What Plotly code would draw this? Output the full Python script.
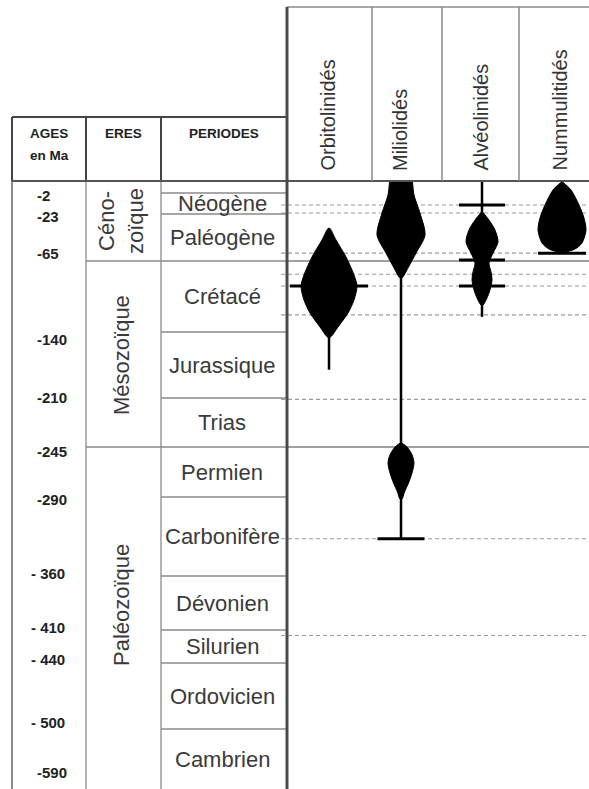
import numpy as np
import plotly.graph_objects as go

# ---------------- data ----------------
boundary_ages = [0, 2, 23, 65, 140, 210, 245, 290, 360, 410, 440, 500, 590]
period_names = ["", "Néogène", "Paléogène", "Crétacé", "Jurassique", "Trias",
                "Permien", "Carbonifère", "Dévonien", "Silurien", "Ordovicien", "Cambrien"]
era_names = ["Céno-<br>zoïque", "Mésozoïque", "Paléozoïque"]
era_bounds = [0, 65, 245, 590]
age_ticks = [2, 23, 65, 140, 210, 245, 290, 360, 410, 440, 500, 590]
age_labels = ["-2", "-23", "-65", "-140", "-210", "-245", "-290",
              "- 360", "- 410", "- 440", "- 500", "-590"]
taxa = ["Orbitolinidés", "Miliolidés", "Alvéolinidés", "Nummulitidés"]

# spindles : age (Ma) and relative abundance
orbito_age = [35.5, 46.2, 61.4, 79.8, 91.4, 106.2, 119.9, 134.7, 145.3]
orbito_abund = [0, 7, 17, 25, 28, 25, 19, 9, 1.5]
milio1_age = [0, 4, 22, 41.8, 57.9, 71.3, 83]
milio1_abund = [11.5, 13, 19, 24, 15, 7.5, 1]
milio2_age = [242, 245, 252, 259.4, 268.4, 277.4, 285.5, 291.8]
milio2_abund = [0.5, 6, 11, 13, 11, 7.5, 3.5, 1]
alveo_age = [21, 28.4, 37.3, 48, 57.9, 67.1, 76.6, 85.1, 98.8, 111.5]
alveo_abund = [0.5, 7, 13, 16, 11, 7, 9, 10, 7, 1]
nummu_age = [0, 1.45, 14, 26.6, 37.3, 48.9, 54.3, 57]
nummu_abund = [0.5, 9, 17, 22, 24, 20, 13, 3]

# stratigraphic ranges (Ma) and marker levels (Ma)
range_top = [35.5, 0, 0, None]
range_base = [180, 327, 124, None]
marker_ages = [[91.4], [327], [14, 64, 91.4], [58]]

dashed_ages = [14, 22, 58, 79, 91.4, 122, 211, 327, 415]
solid_ages = [65, 245]

# ---------------- layout helpers ----------------
W, H = 589, 789
row_pos = [182, 193, 214, 261, 332, 398, 447, 497, 576, 630, 663, 729, 789]


def ypos(age):
    return float(np.interp(age, boundary_ages, row_pos))


X_LEFT, X_ERA, X_PER, X_AXIS, X_RIGHT = 12, 86, 161, 287, 589
HEAD_TOP_L, HEAD_TOP_R, HEAD_BOT = 117, 7, 181
taxon_x = [329, 401, 482, 562]
head_x = [327, 400, 480, 559]
marker_half = [39, 23.5, 23, 24]
label_dy = [2, 2, -8, 7, -1, 4, 2, -3, -3, -4, -7, -17]

fig = go.Figure()


def line(x0, y0, x1, y1, color, width, dash=None, layer="below"):
    fig.add_shape(type="line", xref="x", yref="y", x0=x0, y0=y0, x1=x1, y1=y1,
                  line=dict(color=color, width=width, dash=dash), layer=layer)


# right panel reference lines
for a in dashed_ages:
    line(X_AXIS - 6, ypos(a), X_RIGHT, ypos(a), "#9a9a9a", 1.2, dash="4px,3px")
for a in solid_ages:
    line(X_AXIS, ypos(a), X_RIGHT, ypos(a), "#808080", 1.5)

# left table body
line(X_LEFT, HEAD_BOT, X_LEFT, H, "#8a8a8a", 2)
line(X_ERA, HEAD_BOT, X_ERA, H, "#9a9a9a", 1.5)
line(X_PER, HEAD_BOT, X_PER, H, "#9a9a9a", 1.5)
for a in boundary_ages[1:-1]:
    x0 = X_ERA if a in era_bounds else X_PER
    line(x0, ypos(a), X_AXIS, ypos(a), "#8a8a8a", 1.5)

# left header box
line(X_LEFT, HEAD_TOP_L, X_AXIS, HEAD_TOP_L, "#444444", 2)
line(X_LEFT, HEAD_TOP_L, X_LEFT, HEAD_BOT, "#444444", 2)
line(X_ERA, HEAD_TOP_L, X_ERA, HEAD_BOT, "#444444", 2)
line(X_PER, HEAD_TOP_L, X_PER, HEAD_BOT, "#444444", 2)
line(X_LEFT, HEAD_BOT, X_RIGHT, HEAD_BOT, "#555555", 2)

# right header boxes
line(X_AXIS, HEAD_TOP_R, X_RIGHT, HEAD_TOP_R, "#8a8a8a", 1.5)
for xb in [372, 442, 519]:
    line(xb, HEAD_TOP_R, xb, HEAD_BOT, "#8a8a8a", 1.5)

# thick axis line
line(X_AXIS, HEAD_TOP_R, X_AXIS, H, "#4a4a4a", 3)

# ranges and markers
for i in range(4):
    cx = taxon_x[i]
    if range_top[i] is not None:
        fig.add_trace(go.Scatter(x=[cx, cx], y=[ypos(range_top[i]), ypos(range_base[i])],
                                 mode="lines", line=dict(color="black", width=2.5),
                                 hoverinfo="skip"))
    for a in marker_ages[i]:
        fig.add_trace(go.Scatter(x=[cx - marker_half[i], cx + marker_half[i]],
                                 y=[ypos(a), ypos(a)], mode="lines",
                                 line=dict(color="black", width=3), hoverinfo="skip"))


def spindle(cx, ages, abund):
    ys = [ypos(a) for a in ages]
    xr = [cx + w for w in abund]
    xl = [cx - w for w in abund]
    fig.add_trace(go.Scatter(x=xr + xl[::-1], y=ys + ys[::-1], mode="lines",
                             fill="toself", fillcolor="black",
                             line=dict(color="black", width=1, shape="spline", smoothing=0.8),
                             hoverinfo="skip"))


spindle(taxon_x[0], orbito_age, orbito_abund)
spindle(taxon_x[1], milio1_age, milio1_abund)
spindle(taxon_x[1], milio2_age, milio2_abund)
spindle(taxon_x[2], alveo_age, alveo_abund)
spindle(taxon_x[3], nummu_age, nummu_abund)

# ---------------- texts ----------------
anns = []
hdr_font = dict(family="Liberation Sans, Arial, sans-serif", size=13.5, color="#222222")
anns.append(dict(x=(X_LEFT + X_ERA) / 2, y=133, text="<b>AGES</b>", font=hdr_font, showarrow=False))
anns.append(dict(x=(X_LEFT + X_ERA) / 2, y=155, text="<b>en Ma</b>", font=hdr_font, showarrow=False))
anns.append(dict(x=(X_ERA + X_PER) / 2, y=133, text="<b>ERES</b>", font=hdr_font, showarrow=False))
anns.append(dict(x=(X_PER + X_AXIS) / 2, y=133, text="<b>PERIODES</b>", font=hdr_font, showarrow=False))

for t, hx in zip(taxa, head_x):
    anns.append(dict(x=hx, y=173, text=t, textangle=-90, yanchor="bottom",
                     font=dict(family="Liberation Sans, Arial, sans-serif", size=20, color="#333333"),
                     showarrow=False))

per_font = dict(family="Liberation Sans, Arial, sans-serif", size=22, color="#3a3a3a")
for i, name in enumerate(period_names):
    if not name:
        continue
    y0 = ypos(boundary_ages[i])
    y1 = min(ypos(boundary_ages[i + 1]), H)
    anns.append(dict(x=222, y=(y0 + y1) / 2, text=name, font=per_font, showarrow=False))

era_font = dict(family="Liberation Sans, Arial, sans-serif", size=22, color="#3a3a3a")
era_y = [221, 355, 605]
for name, ey in zip(era_names, era_y):
    anns.append(dict(x=121, y=ey, text=name, textangle=-90, font=era_font, showarrow=False))

age_font = dict(family="Liberation Sans, Arial, sans-serif", size=15, color="#222222")
for a, lab, dy in zip(age_ticks, age_labels, label_dy):
    x = 29 if " " in lab else 35
    anns.append(dict(x=x, y=ypos(a) + dy, text="<b>" + lab + "</b>", xanchor="left",
                     font=age_font, showarrow=False))

fig.update_layout(
    width=W, height=H, margin=dict(l=0, r=0, t=0, b=0),
    paper_bgcolor="white", plot_bgcolor="white", showlegend=False,
    xaxis=dict(range=[0, W], visible=False, fixedrange=True),
    yaxis=dict(range=[H, 0], visible=False, fixedrange=True),
    annotations=anns,
)
fig.write_html("out.html", config={"displayModeBar": False},
               post_script="document.body.style.margin='0';document.body.style.overflow='hidden';")
